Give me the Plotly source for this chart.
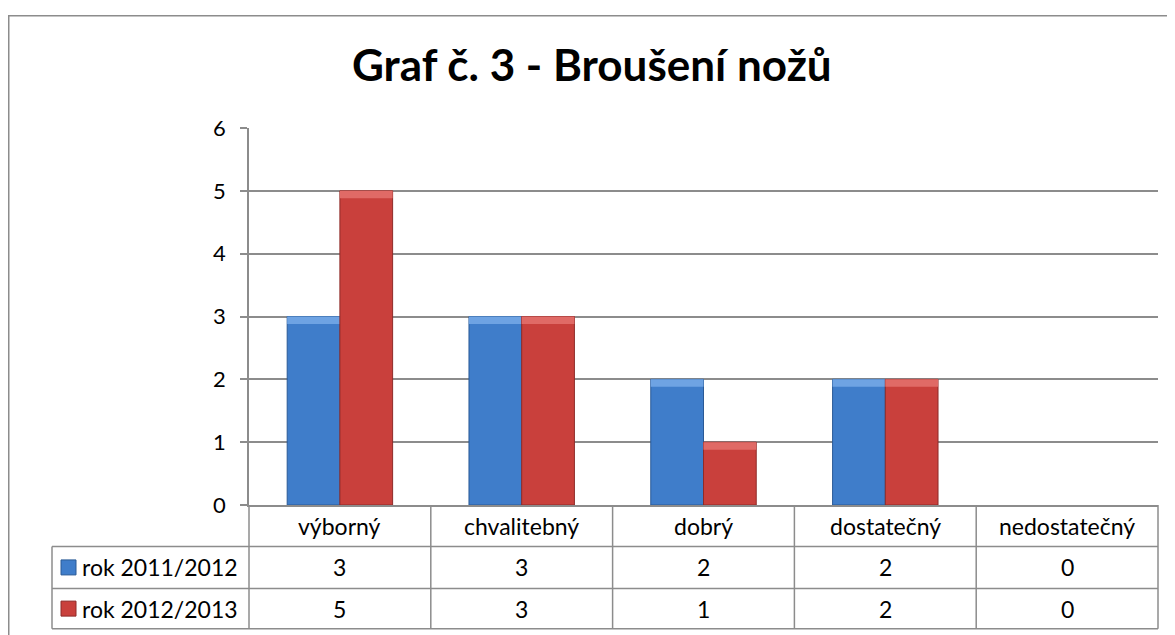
import plotly.graph_objects as go

# ---------------------------------------------------------------------------
# Data
# ---------------------------------------------------------------------------
TITLE = "Graf č. 3 - Broušení nožů"
CATEGORIES = ["výborný", "chvalitebný", "dobrý", "dostatečný", "nedostatečný"]
SERIES_NAMES = ["rok 2011/2012", "rok 2012/2013"]
VALUES_2011 = [3, 3, 2, 2, 0]
VALUES_2012 = [5, 3, 1, 2, 0]
Y_TICKS = [0, 1, 2, 3, 4, 5, 6]

BAR_COLORS = ["#3f7dca", "#c9403c"]
BAR_TOPS = ["#6ea3e3", "#e06a66"]      # lighter bevel strip on top of each bar
BAR_EDGES = ["#2a5a96", "#8e2b29"]
GRID = "#8c8c8c"
FONT = "Lato"
BEVEL = 0.12                             # height of the top strip, axis units

# ---------------------------------------------------------------------------
# Geometry (pixels of the screenshot; the page body adds an 8px margin)
# ---------------------------------------------------------------------------
OFF = 8
W, H = 1175, 635
PLOT_L, PLOT_R, PLOT_T, PLOT_B = 249 - OFF, 1158 - OFF, 128 - OFF, 505.5 - OFF
TABLE_LEFT = 52 - OFF
ROW_EDGES = [PLOT_B, 547 - OFF, 589 - OFF, 629.5 - OFF]


def px_x(px):
    return (px - PLOT_L) / (PLOT_R - PLOT_L)


def px_y(py):
    return (PLOT_B - py) / (PLOT_B - PLOT_T)


fig = go.Figure()
series = [VALUES_2011, VALUES_2012]
for k, (name, vals) in enumerate(zip(SERIES_NAMES, series)):
    widths = [1 if v else 0 for v in vals]
    fig.add_trace(go.Bar(
        x=CATEGORIES, y=vals, name=name, offsetgroup=str(k),
        marker=dict(color=BAR_COLORS[k],
                    line=dict(color=BAR_EDGES[k], width=widths)),
    ))
    # bevel highlight, same offset group so it sits on top of the bar
    fig.add_trace(go.Bar(
        x=CATEGORIES, y=[BEVEL if v else 0 for v in vals],
        base=[v - BEVEL if v else 0 for v in vals],
        offsetgroup=str(k), hoverinfo="skip", showlegend=False,
        marker=dict(color=BAR_TOPS[k], line=dict(width=0)),
    ))

shapes = []
annotations = []

# outer chart frame (runs past the cropped right / bottom edges)
shapes.append(dict(type="rect", xref="paper", yref="paper",
                   x0=px_x(0.75), x1=px_x(W + 20), y0=px_y(H + 20),
                   y1=px_y(15.5 - OFF),
                   line=dict(color=GRID, width=1.5)))

# data table: horizontal lines
for py in ROW_EDGES[1:]:
    shapes.append(dict(type="line", xref="paper", yref="paper",
                       x0=px_x(TABLE_LEFT), x1=1, y0=px_y(py), y1=px_y(py),
                       line=dict(color=GRID, width=1.5)))
# left / right borders of the table
shapes.append(dict(type="line", xref="paper", yref="paper",
                   x0=px_x(TABLE_LEFT), x1=px_x(TABLE_LEFT),
                   y0=px_y(ROW_EDGES[1]), y1=px_y(ROW_EDGES[-1]),
                   line=dict(color=GRID, width=1.5)))
for xp in (0, 1):
    shapes.append(dict(type="line", xref="paper", yref="paper",
                       x0=xp, x1=xp, y0=px_y(ROW_EDGES[0]), y1=px_y(ROW_EDGES[-1]),
                       line=dict(color=GRID, width=1.5)))
# inner column separators, on the category axis
for i in range(len(CATEGORIES) - 1):
    shapes.append(dict(type="line", xref="x", yref="paper",
                       x0=i + 0.5, x1=i + 0.5,
                       y0=px_y(ROW_EDGES[0]), y1=px_y(ROW_EDGES[-1]),
                       line=dict(color=GRID, width=1.5)))

row_mid = [(ROW_EDGES[k] + ROW_EDGES[k + 1]) / 2 for k in range(3)]
cell_font = dict(family=FONT, size=23, color="#000")

for cat in CATEGORIES:
    annotations.append(dict(x=cat, xref="x", y=px_y(row_mid[0]), yref="paper",
                            text=cat, showarrow=False, font=cell_font,
                            xanchor="center", yanchor="middle"))
for r, (name, vals) in enumerate(zip(SERIES_NAMES, series)):
    yc = px_y(row_mid[r + 1])
    for cat, v in zip(CATEGORIES, vals):
        annotations.append(dict(x=cat, xref="x", y=yc, yref="paper",
                                text=str(v), showarrow=False, font=cell_font,
                                xanchor="center", yanchor="middle"))
    annotations.append(dict(x=px_x(80 - OFF), xref="paper", y=yc, yref="paper",
                            text=name, showarrow=False, font=cell_font,
                            xanchor="left", yanchor="middle"))
    # legend key
    shapes.append(dict(type="rect", xref="paper", yref="paper",
                       x0=px_x(61 - OFF), x1=px_x(76 - OFF),
                       y0=px_y(row_mid[r + 1] + 7.5), y1=px_y(row_mid[r + 1] - 7.5),
                       fillcolor=BAR_COLORS[r],
                       line=dict(color=BAR_EDGES[r], width=1)))

annotations.append(dict(x=px_x(592 - OFF), xref="paper", y=px_y(64 - OFF),
                        yref="paper", text=f"<b>{TITLE}</b>", showarrow=False,
                        font=dict(family=FONT, size=44, color="#000"),
                        xanchor="center", yanchor="middle"))

fig.update_layout(
    width=W, height=H,
    margin=dict(l=PLOT_L, r=W - PLOT_R, t=PLOT_T, b=H - PLOT_B),
    paper_bgcolor="white", plot_bgcolor="white",
    showlegend=False,
    barmode="group", bargap=0.42, bargroupgap=0,
    font=dict(family=FONT, size=23, color="#000"),
    shapes=shapes, annotations=annotations,
)
fig.update_xaxes(type="category", range=[-0.5, len(CATEGORIES) - 0.5],
                 showticklabels=False, showgrid=False, ticks="",
                 showline=True, linecolor=GRID, linewidth=1.5)
fig.update_yaxes(range=[0, 6], tickvals=Y_TICKS, showgrid=True,
                 gridcolor=GRID, gridwidth=1.5, zeroline=False,
                 showline=True, linecolor=GRID, linewidth=1.5,
                 ticks="outside", ticklen=7, tickcolor=GRID, tickwidth=1.5,
                 ticklabelstandoff=10, tickfont=dict(family=FONT, size=22))

fig.write_html("out.html")
